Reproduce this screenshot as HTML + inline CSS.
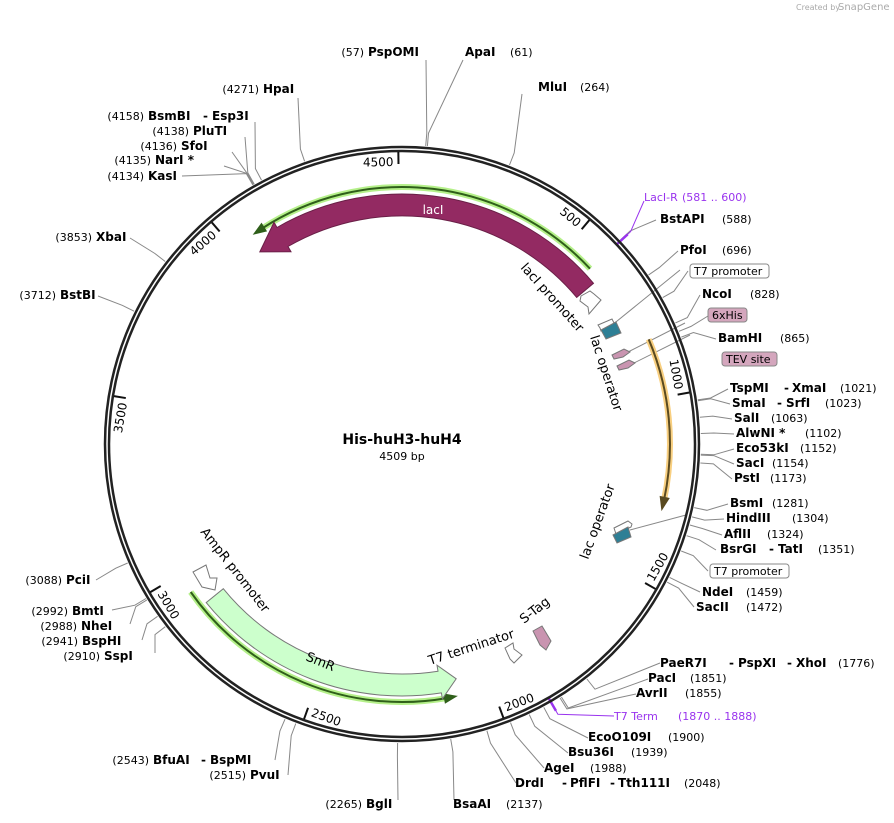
<!DOCTYPE html>
<html><head><meta charset="utf-8"><style>
html,body{margin:0;padding:0;background:#fff;}
svg{display:block;font-family:"DejaVu Sans","Liberation Sans",sans-serif;font-size:11px;}
.b{font-weight:bold;font-size:12px;}
.p{fill:#9933ee;}
.f{font-size:13px;}
.e{text-anchor:end;}
</style></head><body>
<svg id="s" width="894" height="823" viewBox="0 0 894 823" xmlns="http://www.w3.org/2000/svg">
<text x="796" y="10" font-size="8" fill="#aaa">Created by</text><text x="838" y="10" font-size="10" fill="#aaa">SnapGene</text>
<g id="lines" stroke="#888" stroke-width="1" fill="none"></g>
<g id="feat"></g>
<circle cx="402" cy="444" r="297" fill="none" stroke="#222" stroke-width="2.5"/>
<circle cx="402" cy="444" r="293" fill="none" stroke="#222" stroke-width="2.5"/>
<g id="ticks" font-size="12"></g>

<text x="402" y="444" text-anchor="middle" class="b" font-size="14" style="font-size:14px">His-huH3-huH4</text>
<text x="402" y="460" text-anchor="middle" font-size="11">4509 bp</text>

<text x="433" y="214" text-anchor="middle" fill="#fff" font-size="12">lacI</text>
<text transform="translate(520,268) rotate(48)" class="f">lacI promoter</text>
<text transform="translate(590,337) rotate(72)" class="f">lac operator</text>
<text transform="translate(588,560) rotate(-70)" class="f">lac operator</text>
<text transform="translate(200,532) rotate(52)" class="f">AmpR promoter</text>
<text transform="translate(305,660) rotate(22)" class="f">SmR</text>
<text transform="translate(430,665) rotate(-18)" class="f">T7 terminator</text>
<text transform="translate(524,624) rotate(-38)" class="f">S-Tag</text>

<text x="364" y="56" class="e">(57)</text><text x="368" y="56" class="b">PspOMI</text>
<text x="465" y="56" class="b">ApaI</text><text x="510" y="56">(61)</text>
<text x="538" y="91" class="b">MluI</text><text x="580" y="91">(264)</text>
<text x="259" y="93" class="e">(4271)</text><text x="263" y="93" class="b">HpaI</text>
<text x="144" y="120" class="e">(4158)</text><text x="148" y="120" class="b">BsmBI</text><text x="203" y="120" class="b">-</text><text x="212" y="120" class="b">Esp3I</text>
<text x="189" y="135" class="e">(4138)</text><text x="193" y="135" class="b">PluTI</text>
<text x="177" y="150" class="e">(4136)</text><text x="181" y="150" class="b">SfoI</text>
<text x="151" y="164" class="e">(4135)</text><text x="155" y="164" class="b">NarI *</text>
<text x="144" y="180" class="e">(4134)</text><text x="148" y="180" class="b">KasI</text>
<text x="92" y="241" class="e">(3853)</text><text x="96" y="241" class="b">XbaI</text>
<text x="56" y="299" class="e">(3712)</text><text x="60" y="299" class="b">BstBI</text>
<text x="62" y="584" class="e">(3088)</text><text x="66" y="584" class="b">PciI</text>
<text x="68" y="615" class="e">(2992)</text><text x="72" y="615" class="b">BmtI</text>
<text x="77" y="630" class="e">(2988)</text><text x="81" y="630" class="b">NheI</text>
<text x="78" y="645" class="e">(2941)</text><text x="82" y="645" class="b">BspHI</text>
<text x="100" y="660" class="e">(2910)</text><text x="104" y="660" class="b">SspI</text>
<text x="149" y="764" class="e">(2543)</text><text x="153" y="764" class="b">BfuAI</text><text x="201" y="764" class="b">-</text><text x="210" y="764" class="b">BspMI</text>
<text x="246" y="779" class="e">(2515)</text><text x="250" y="779" class="b">PvuI</text>
<text x="362" y="808" class="e">(2265)</text><text x="366" y="808" class="b">BglI</text>
<text x="453" y="808" class="b">BsaAI</text><text x="506" y="808">(2137)</text>
<text x="515" y="787" class="b">DrdI</text><text x="562" y="787" class="b">-</text><text x="570" y="787" class="b">PflFI</text><text x="610" y="787" class="b">-</text><text x="618" y="787" class="b">Tth111I</text><text x="684" y="787">(2048)</text>
<text x="544" y="772" class="b">AgeI</text><text x="590" y="772">(1988)</text>
<text x="568" y="756" class="b">Bsu36I</text><text x="631" y="756">(1939)</text>
<text x="588" y="741" class="b">EcoO109I</text><text x="668" y="741">(1900)</text>
<text x="614" y="720" class="p">T7 Term</text><text x="678" y="720" class="p">(1870 .. 1888)</text>
<text x="636" y="697" class="b">AvrII</text><text x="685" y="697">(1855)</text>
<text x="648" y="682" class="b">PacI</text><text x="690" y="682">(1851)</text>
<text x="660" y="667" class="b">PaeR7I</text><text x="729" y="667" class="b">-</text><text x="738" y="667" class="b">PspXI</text><text x="787" y="667" class="b">-</text><text x="796" y="667" class="b">XhoI</text><text x="838" y="667">(1776)</text>
<text x="702" y="596" class="b">NdeI</text><text x="746" y="596">(1459)</text>
<text x="696" y="611" class="b">SacII</text><text x="746" y="611">(1472)</text>
<rect x="710" y="564" width="79" height="14" rx="3" fill="#fff" stroke="#888"/><text x="714" y="575">T7 promoter</text>
<text x="720" y="553" class="b">BsrGI</text><text x="769" y="553" class="b">-</text><text x="778" y="553" class="b">TatI</text><text x="818" y="553">(1351)</text>
<text x="724" y="538" class="b">AflII</text><text x="767" y="538">(1324)</text>
<text x="726" y="522" class="b">HindIII</text><text x="792" y="522">(1304)</text>
<text x="730" y="507" class="b">BsmI</text><text x="772" y="507">(1281)</text>
<text x="734" y="482" class="b">PstI</text><text x="770" y="482">(1173)</text>
<text x="736" y="467" class="b">SacI</text><text x="772" y="467">(1154)</text>
<text x="736" y="452" class="b">Eco53kI</text><text x="800" y="452">(1152)</text>
<text x="736" y="437" class="b">AlwNI *</text><text x="805" y="437">(1102)</text>
<text x="734" y="422" class="b">SalI</text><text x="771" y="422">(1063)</text>
<text x="732" y="407" class="b">SmaI</text><text x="777" y="407" class="b">-</text><text x="786" y="407" class="b">SrfI</text><text x="825" y="407">(1023)</text>
<text x="730" y="392" class="b">TspMI</text><text x="784" y="392" class="b">-</text><text x="792" y="392" class="b">XmaI</text><text x="840" y="392">(1021)</text>
<rect x="722" y="352" width="55" height="14" rx="3" fill="#d4a6bd" stroke="#888"/><text x="726" y="363">TEV site</text>
<text x="718" y="342" class="b">BamHI</text><text x="780" y="342">(865)</text>
<rect x="708" y="308" width="39" height="14" rx="3" fill="#d4a6bd" stroke="#888"/><text x="712" y="319">6xHis</text>
<text x="702" y="298" class="b">NcoI</text><text x="750" y="298">(828)</text>
<rect x="690" y="264" width="79" height="14" rx="3" fill="#fff" stroke="#888"/><text x="694" y="275">T7 promoter</text>
<text x="680" y="254" class="b">PfoI</text><text x="722" y="254">(696)</text>
<text x="660" y="223" class="b">BstAPI</text><text x="722" y="223">(588)</text>
<text x="644" y="201" class="p">LacI-R</text><text x="682" y="201" class="p">(581 .. 600)</text>
</svg>
<script>
var C=[402,444],N=4509,NS="http://www.w3.org/2000/svg";
function P(r,a){a=a*Math.PI/180;return [C[0]+r*Math.sin(a),C[1]-r*Math.cos(a)];}
function f(p){return p[0].toFixed(1)+","+p[1].toFixed(1);}
function el(parent,tag,attrs){var e=document.createElementNS(NS,tag);for(var k in attrs)e.setAttribute(k,attrs[k]);document.getElementById(parent).appendChild(e);return e;}
function ang(bp){return bp/N*360;}
var L=[[57,426,60],[61,463,60],[264,522,94],[4271,298,98],[4158,255,122],[4138,245,137],[4136,232,152],[4135,224,166],[4134,182,176],[3853,130,238],[3712,98,296],
[3088,96,580],[2992,112,610],[2988,130,624],[2941,142,640],[2910,155,653],[2543,275,760],[2515,288,775],[2265,398,800],[2137,454,800],[2048,516,783],[1988,544,768],[1939,568,753],[1900,588,738],
[1855,636,694],[1851,648,679],[1776,660,663],[1459,700,592],[1472,694,607],[1390,708,571],[1351,716,550],[1324,722,535],[1304,724,519],[1281,728,504],[1173,732,479],[1154,734,464],[1152,734,449],[1102,734,434],[1063,732,419],[1023,730,404],[1021,728,389],
[865,716,339],[850,708,316],[828,700,295],[760,688,271],[696,678,251],[588,656,220]];
L.forEach(function(l){var a=ang(l[0]);var p1=P(299,a),p2=P(312,a);el("lines","polyline",{points:f(p1)+" "+f(p2)+" "+l[1]+","+l[2]});});
[[606,330,680,270],[622,355,685,323],[628,366,690,335],[630,530,686,515]].forEach(function(l){el("lines","line",{x1:l[0],y1:l[1],x2:l[2],y2:l[3]});});
[[590,644,201],[1879,614,716]].forEach(function(l){var a=ang(l[0]);var p2=P(308,a);
el("feat","line",{x1:P(294,a)[0],y1:P(294,a)[1],x2:p2[0],y2:p2[1],stroke:"#9933ee","stroke-width":2.5});
el("lines","polyline",{points:f(P(298,a))+" "+f(P(312,a))+" "+l[1]+","+l[2],stroke:"#9933ee"});});
[500,1000,1500,2000,2500,3000,3500,4000,4500].forEach(function(t){var a=ang(t);
var flip=(a>95&&a<265);
var p1=P(292,a),p2=P(280,a);el("ticks","line",{x1:p1[0],y1:p1[1],x2:p2[0],y2:p2[1],stroke:"#111","stroke-width":2});
var tx=document.createElementNS(NS,"text");tx.textContent=t;
if(!flip){tx.setAttribute("transform","rotate("+a+" 402 444)");tx.setAttribute("x",397);tx.setAttribute("y",166);tx.setAttribute("text-anchor","end");}
else{tx.setAttribute("transform","rotate("+(a-180)+" 402 444)");tx.setAttribute("x",407);tx.setAttribute("y",731);}
document.getElementById("ticks").appendChild(tx);});
function arc(r,a1,a2){var q=P(r,a2);return "A"+r+","+r+" 0 "+((a2-a1)>180?1:0)+" 1 "+f(q);}
function arcR(r,a1,a2){var q=P(r,a1);return "A"+r+","+r+" 0 "+((a2-a1)>180?1:0)+" 0 "+f(q);}
function band(ri,ro,a1,a2,h,w,startHead,fill,stroke){var rm=(ri+ro)/2,d;
if(startHead){d="M"+f(P(ro,a1))+arc(ro,a1,a2)+"L"+f(P(ri,a2))+arcR(ri,a1,a2)+"L"+f(P(ri-w,a1))+"L"+f(P(rm,a1-h))+"L"+f(P(ro+w,a1))+"Z";}
else{d="M"+f(P(ro,a1))+arc(ro,a1,a2)+"L"+f(P(ro+w,a2))+"L"+f(P(rm,a2+h))+"L"+f(P(ri-w,a2))+"L"+f(P(ri,a2))+arcR(ri,a1,a2)+"Z";}
el("feat","path",{d:d,fill:fill,stroke:stroke,"stroke-width":1});}
function larrow(r,a1,a2,startHead,col,glow){var d="M"+f(P(r,a1))+arc(r,a1,a2);
el("feat","path",{d:d,fill:"none",stroke:glow,"stroke-width":6});
el("feat","path",{d:d,fill:"none",stroke:col,"stroke-width":2});
var h=2.2,tip,b1,b2;if(startHead){tip=P(r,a1-h);b1=P(r-4.5,a1+0.5);b2=P(r+4.5,a1+0.5);}else{tip=P(r,a2+h);b1=P(r-4.5,a2-0.5);b2=P(r+4.5,a2-0.5);}
el("feat","polygon",{points:f(tip)+" "+f(b1)+" "+f(b2),fill:col,stroke:col});}
larrow(257,-33,47,true,"#2f5f1a","#b5f08a");
band(228,250,-30,50,6.5,6,true,"#932a62","#6a1f47");
larrow(268,67,102,false,"#5a4a20","#f8cf80");
larrow(258,170,235,true,"#2f5f1a","#b5f08a");
band(230,252,171,231,4,6,true,"#ccffcc","#777");
function poly(pts,fill){el("feat","polygon",{points:pts,fill:fill,stroke:"#777","stroke-width":1});}
poly("581,296 590,291 594,294 601,300 589,314 588,307 580,301","#fff");
poly("598,325 612,319 614,323 616,322 601,331 600,328","#fff");
poly("601,330 616,322 621,333 606,339","#2e7f95");
poly("612,355 624,349 630,352 623,357 614,359","#c994b0");
poly("617,366 629,360 635,363 628,368 619,370","#c994b0");
poly("614,528 628,521 632,524 631,527 616,534 615,531","#fff");
poly("613,535 628,527 631,537 617,543","#2e7f95");
poly("193,572 206,565 210,578 217,578 215,590 202,587","#fff");
poly("505,648 513,643 514,649 522,655 514,663 510,659","#fff");
poly("533,631 542,626 551,641 546,650 540,645","#c994b0");
</script>
</body></html>
